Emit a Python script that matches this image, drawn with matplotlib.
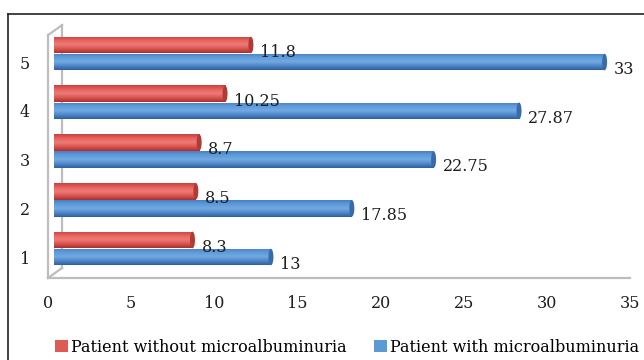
import matplotlib
matplotlib.use("Agg")
import matplotlib.pyplot as plt
import numpy as np
from matplotlib.colors import LinearSegmentedColormap
from matplotlib.patches import Patch, Ellipse
from matplotlib.lines import Line2D
import matplotlib.transforms as mtransforms

# ---- data ----
groups = ["1", "2", "3", "4", "5"]
without_micro = [8.3, 8.5, 8.7, 10.25, 11.8]
with_micro = [13, 17.85, 22.75, 27.87, 33]
series_names = ["Patient without microalbuminuria", "Patient with microalbuminuria"]
x_ticks = [0, 5, 10, 15, 20, 25, 30, 35]

FONT = "DejaVu Serif"
FS = 11.5
TXT = "#1e1e1e"
W, H = 644, 360

fig = plt.figure(figsize=(W / 100, H / 100), dpi=100)
fig.patch.set_facecolor("white")

# outer chart border (top and left edges visible)
fig.add_artist(Line2D([8 / W, 8 / W], [0, 1 - 14 / H], transform=fig.transFigure,
                      color="#222222", lw=1.2))
fig.add_artist(Line2D([8 / W, 1], [1 - 14 / H, 1 - 14 / H], transform=fig.transFigure,
                      color="#222222", lw=1.2))

# front plane: axis labels and floor edge
bottom = 1 - 278 / H
top = 1 - 25 / H
ax_front = fig.add_axes([48 / W, bottom, 582 / W, top - bottom])
ax_front.set_xlim(0, 35)
ax_front.set_ylim(-0.43, 4.76)
ax_front.set_xticks(x_ticks)
ax_front.set_xticklabels([str(t) for t in x_ticks], fontsize=FS, family=FONT, color=TXT)
ax_front.set_yticks(range(len(groups)))
ax_front.set_yticklabels(groups, fontsize=FS, family=FONT, color=TXT)
ax_front.tick_params(axis="x", length=0, pad=12)
ax_front.tick_params(axis="y", length=0, pad=13)
for s in ax_front.spines.values():
    s.set_visible(False)
ax_front.patch.set_visible(False)

# 3D wall/floor outline
grey = "#bdbdbd"
off = mtransforms.ScaledTranslation(14 / 100, 10 / 100, fig.dpi_scale_trans)
t_front = ax_front.transAxes
t_back = ax_front.transAxes + off
ax_front.add_line(Line2D([0, 1], [0, 0], transform=t_front, color=grey, lw=1.6, clip_on=False))
ax_front.add_line(Line2D([0, 0], [0, 0.96], transform=t_front, color=grey, lw=1.6, clip_on=False))
ax_front.add_line(Line2D([0, 0], [0, 0.96], transform=t_back, color=grey, lw=1.6, clip_on=False))
for yy in (0, 0.96):
    p0 = t_front.transform((0, yy))
    p1 = t_back.transform((0, yy))
    ax_front.add_line(Line2D([p0[0], p1[0]], [p0[1], p1[1]], transform=None,
                             color=grey, lw=1.6, clip_on=False))

# bar plane (slightly deeper than the front plane)
ax = fig.add_axes([54 / W, bottom, 584 / W, top - bottom])
ax.set_xlim(0, 35)
ax.set_ylim(-0.43, 4.76)
ax.axis("off")

y = np.arange(len(groups))
h = 0.34
red_y = y + 0.35
blue_y = y

red_cmap = LinearSegmentedColormap.from_list(
    "red3d", ["#a8302c", "#d9544f", "#ee7b76", "#e8635e", "#c8403b"])
blue_cmap = LinearSegmentedColormap.from_list(
    "blue3d", ["#2f5f9e", "#4f87c9", "#72aae3", "#5f9bd9", "#4780c4"])

red_bars = ax.barh(red_y, without_micro, height=h, color="#e05a55", zorder=2)
blue_bars = ax.barh(blue_y, with_micro, height=h, color="#5b9bd5", zorder=2)

grad = np.linspace(0, 1, 64).reshape(-1, 1)
for bars, cmap, cap in ((red_bars, red_cmap, "#b23a35"), (blue_bars, blue_cmap, "#3a6aa8")):
    for b in bars:
        x0, y0, bw, bh = b.get_x(), b.get_y(), b.get_width(), b.get_height()
        im = ax.imshow(grad, cmap=cmap, aspect="auto", origin="lower",
                       extent=(x0, x0 + bw, y0, y0 + bh), zorder=3)
        im.set_clip_path(b)
        ax.add_patch(Ellipse((x0 + bw, y0 + bh / 2), 0.3, bh, facecolor=cap,
                             edgecolor="none", zorder=4))

ax.set_xlim(0, 35)
ax.set_ylim(-0.43, 4.76)

for bars, vals in ((red_bars, without_micro), (blue_bars, with_micro)):
    for b, v in zip(bars, vals):
        ax.text(b.get_x() + b.get_width() + 0.55, b.get_y() + b.get_height() / 2 - 0.15,
                f"{v:g}", ha="left", va="center", fontsize=FS, family=FONT,
                color=TXT, zorder=5)

handles = [Patch(facecolor="#e05a55", edgecolor="none"),
           Patch(facecolor="#5b9bd5", edgecolor="none")]
fig.legend(handles, series_names, loc="center", bbox_to_anchor=(347 / W, 1 - 347 / H),
           ncol=2, frameon=False, prop={"family": FONT, "size": FS},
           handlelength=0.8, handleheight=0.8, handletextpad=0.2, columnspacing=1.7)

fig.savefig("out.png", dpi=100, facecolor="white")
